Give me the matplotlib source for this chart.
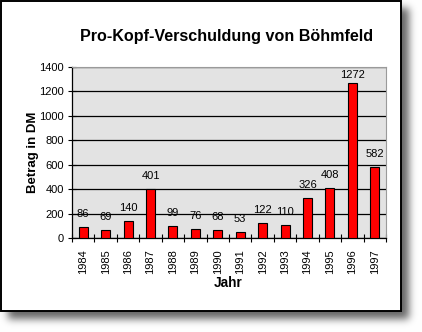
import numpy as np
import matplotlib
matplotlib.use("Agg")
from matplotlib import pyplot as plt
from matplotlib.patches import Rectangle

plt.rcParams['font.family'] = ['Liberation Sans', 'DejaVu Sans']

years = ['1984', '1985', '1986', '1987', '1988', '1989', '1990',
         '1991', '1992', '1993', '1994', '1995', '1996', '1997']
debt = [86, 69, 140, 401, 99, 76, 68, 53, 122, 110, 326, 408, 1272, 582]

W, H, DPI = 422, 332, 100
fig = plt.figure(figsize=(W / DPI, H / DPI), dpi=DPI)
fig.patch.set_facecolor('white')


def soft_box(n, lo, hi, sigma):
    box = np.zeros(n)
    box[lo:hi] = 1.0
    k = np.arange(-4 * sigma, 4 * sigma + 1)
    g = np.exp(-0.5 * (k / sigma) ** 2)
    g /= g.sum()
    return np.convolve(box, g, mode='same')


# drop shadow behind the chart frame
sx = soft_box(W, 8, 409, 4.0)
sy = soft_box(H, 8, 319, 4.0)
mask = np.outer(sy, sx)
shade = 1.0 - 0.6 * mask
bg = fig.add_axes([0, 0, 1, 1], zorder=0)
bg.imshow(np.dstack([shade] * 3), extent=(0, W, H, 0), aspect='auto',
          interpolation='bilinear')
bg.set_xlim(0, W)
bg.set_ylim(H, 0)
bg.axis('off')

# white frame with black border
bg.add_patch(Rectangle((1, 1), 400, 310, facecolor='white',
                       edgecolor='black', linewidth=1.4, zorder=2))

ax = fig.add_axes([72 / W, 1 - 238 / H, 314 / W, 171 / H], zorder=1)
ax.set_facecolor('#e3e3e3')

x = np.arange(len(years))
ax.bar(x, debt, width=0.4, color='#ff0000', edgecolor='black',
       linewidth=0.8, zorder=3)

ymax = 1400
ax.set_ylim(0, ymax)
ax.set_xlim(-0.5, len(years) - 0.5)

# value labels sit above each bar but stay inside the plot area
px = ymax / 171.0
for xi, v in zip(x, debt):
    ly = min(v + 13 * px, ymax - 8 * px)
    ax.text(xi, ly, str(v), ha='center', va='center', fontsize=8, zorder=4)

ax.set_yticks(np.arange(0, 1401, 200))
ax.yaxis.grid(True, color='black', linewidth=0.9)
ax.set_axisbelow(True)
ax.tick_params(axis='y', direction='inout', length=6, width=0.8,
               labelsize=8, pad=3)

ax.set_xticks(x)
ax.set_xticklabels(years, rotation=90, fontsize=8)
ax.set_xticks(np.arange(-0.5, len(years)), minor=True)
ax.tick_params(axis='x', which='major', length=0, pad=8)
ax.tick_params(axis='x', which='minor', direction='inout', length=6,
               width=0.8)

for side in ['top', 'right']:
    ax.spines[side].set_color('#9a9a9a')
    ax.spines[side].set_linewidth(0.8)
for side in ['left', 'bottom']:
    ax.spines[side].set_color('black')
    ax.spines[side].set_linewidth(0.9)

fig.text(227 / W, 1 - 37 / H, 'Pro-Kopf-Verschuldung von Böhmfeld',
         ha='center', va='center', fontsize=11.6, fontweight='bold')
fig.text(33 / W, 1 - 152 / H, 'Betrag in DM', rotation=90,
         ha='center', va='center', fontsize=9.5, fontweight='bold')
fig.text(228 / W, 1 - 283 / H, 'Jahr', ha='center', va='center',
         fontsize=9.8, fontweight='bold')

fig.savefig('out.png', dpi=DPI)
